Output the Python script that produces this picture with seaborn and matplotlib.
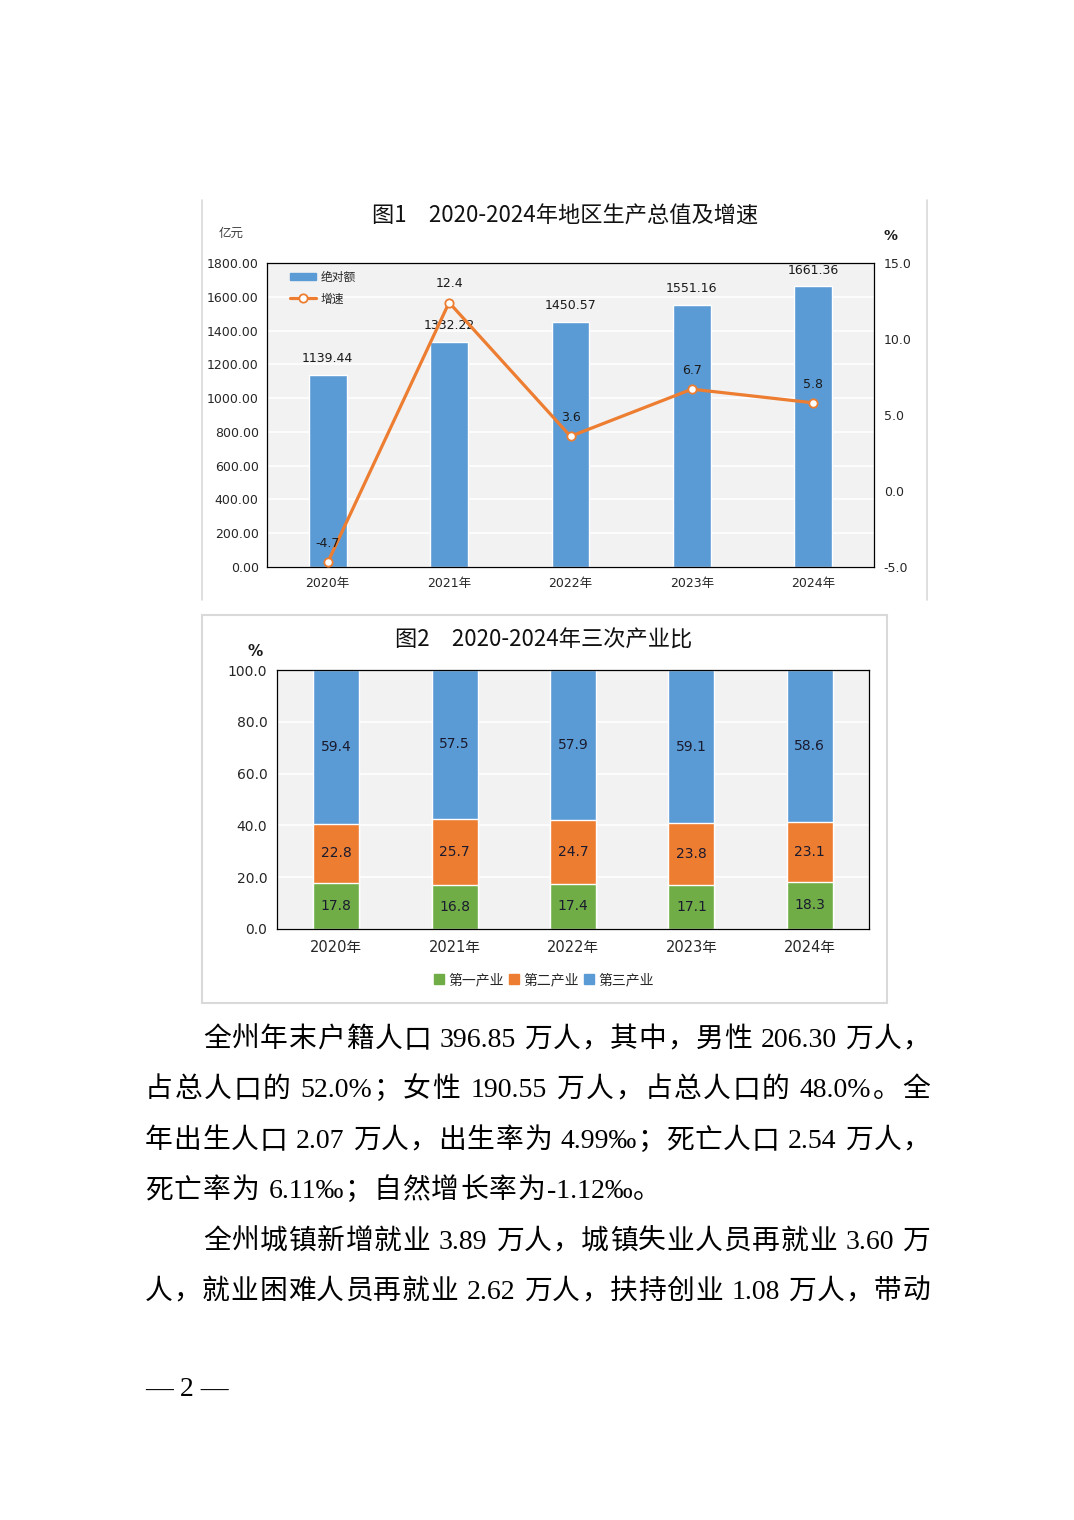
import re
import numpy as np
import pandas as pd
import matplotlib
matplotlib.use("Agg")
import matplotlib.pyplot as plt
import seaborn as sns
from matplotlib.lines import Line2D
from matplotlib.patches import Patch, Rectangle
from matplotlib.ticker import FormatStrFormatter

# ---- data ----
years = ["2020年", "2021年", "2022年", "2023年", "2024年"]
gdp = [1139.44, 1332.22, 1450.57, 1551.16, 1661.36]
growth = [-4.7, 12.4, 3.6, 6.7, 5.8]

sectors = ["第一产业", "第二产业", "第三产业"]
primary = [17.8, 16.8, 17.4, 17.1, 18.3]
secondary = [22.8, 25.7, 24.7, 23.8, 23.1]
tertiary = [59.4, 57.5, 57.9, 59.1, 58.6]

title1 = "图1\u30002020-2024年地区生产总值及增速"
title2 = "图2\u30002020-2024年三次产业比"

body_lines = [
    "全州年末户籍人口 396.85 万人，其中，男性 206.30 万人，",
    "占总人口的 52.0%；女性 190.55 万人，占总人口的 48.0%。全",
    "年出生人口 2.07 万人，出生率为 4.99‰；死亡人口 2.54 万人，",
    "死亡率为 6.11‰；自然增长率为-1.12‰。",
    "全州城镇新增就业 3.89 万人，城镇失业人员再就业 3.60 万",
    "人，就业困难人员再就业 2.62 万人，扶持创业 1.08 万人，带动",
]
page_no = "— 2 —"

sns.set_style("white")
plt.rcParams["font.family"] = ["DejaVu Sans", "Noto Sans CJK SC"]
CJK = ["Noto Sans CJK SC", "DejaVu Sans"]
SANS = ["DejaVu Sans", "Noto Sans CJK SC"]
SERIF = ["Liberation Serif", "Noto Sans CJK SC"]

BLUE = "#5b9bd5"
ORANGE = "#ed7d31"
GREEN = "#70ad47"

W, H = 1074, 1520
fig = plt.figure(figsize=(W / 100, H / 100), dpi=100)


def box(l, t, r, b):
    return [l / W, 1 - b / H, (r - l) / W, (b - t) / H]


def fx(x):
    return x / W


def fy(y):
    return 1 - y / H


# ---- chart 1: GDP and growth ----
fig.add_artist(Line2D([fx(202)] * 2, [fy(200), fy(600)], transform=fig.transFigure, color="#d9d9d9", lw=1.2))
fig.add_artist(Line2D([fx(927)] * 2, [fy(200), fy(600)], transform=fig.transFigure, color="#d9d9d9", lw=1.2))

ax = fig.add_axes(box(267, 263, 874, 567))
ax.set_facecolor("#f2f2f2")
df1 = pd.DataFrame({"year": years, "gdp": gdp, "growth": growth})
sns.barplot(data=df1, x="year", y="gdp", color=BLUE, saturation=1, width=0.31, ax=ax)
ax.set_xlim(-0.5, 4.5)
ax.set_ylim(0, 1800)
ax.set_yticks(np.arange(0, 1801, 200))
ax.yaxis.set_major_formatter(FormatStrFormatter("%.2f"))
ax.grid(axis="y", color="white", lw=1.2)
ax.set_axisbelow(True)
ax.set_xlabel("")
ax.set_ylabel("")
ax.tick_params(axis="y", length=0, labelsize=9, pad=6, colors="#262626")
ax.tick_params(axis="x", length=0, labelsize=9, pad=7, colors="#262626")
for s in ax.spines.values():
    s.set_color("black")
    s.set_linewidth(0.9)
ax.bar_label(ax.containers[0], fmt="%.2f", padding=7, fontsize=9, color="#1a1a1a")

ax2 = ax.twinx()
sns.lineplot(x=np.arange(len(growth)), y=growth, ax=ax2, color=ORANGE, lw=2.3,
             marker="o", markersize=6, markerfacecolor="white",
             markeredgecolor=ORANGE, markeredgewidth=1.3)
ax2.set_xlim(-0.5, 4.5)
ax2.set_ylim(-5, 15)
ax2.set_yticks(np.arange(-5, 15.1, 5))
ax2.yaxis.set_major_formatter(FormatStrFormatter("%.1f"))
ax2.grid(False)
ax2.tick_params(axis="y", length=0, labelsize=9, pad=7, colors="#262626")
for s in ax2.spines.values():
    s.set_visible(False)
for i, v in enumerate(growth):
    ax2.annotate(f"{v:.1f}", (i, v), xytext=(0, 13.5), textcoords="offset points",
                 ha="center", va="center", fontsize=9, color="#1a1a1a")

handles = [Patch(color=BLUE),
           Line2D([], [], color=ORANGE, lw=2.3, marker="o", markersize=6,
                  markerfacecolor="white", markeredgecolor=ORANGE, markeredgewidth=1.3)]
ax2.legend(handles, ["绝对额", "增速"], loc="upper left", bbox_to_anchor=(0.038, 0.975),
           frameon=False, prop={"family": CJK, "size": 8.5}, handlelength=2.2,
           handleheight=0.6, labelspacing=0.75, borderaxespad=0, borderpad=0, handletextpad=0.4)

fig.text(fx(565), fy(216), title1, ha="center", va="center", fontsize=16, family=CJK,
         color="#111111")
fig.text(fx(231), fy(233), "亿元", ha="center", va="center", fontsize=9, family=CJK, color="#404040")
fig.text(fx(891), fy(236), "%", ha="center", va="center", fontsize=10, weight="bold", color="#1a1a1a")

# ---- chart 2: industry structure ----
fig.add_artist(Rectangle((fx(202), fy(1003)), (887 - 202) / W, (1003 - 615) / H,
                         transform=fig.transFigure, fill=False, edgecolor="#d9d9d9", lw=1.5))

ax3 = fig.add_axes(box(277, 670, 869, 929))
ax3.set_facecolor("#f2f2f2")
df2 = pd.DataFrame({"year": years, "第一产业": primary, "第二产业": secondary, "第三产业": tertiary})
tops = df2[sectors].cumsum(axis=1)
bottoms = tops - df2[sectors]
colors = {"第一产业": GREEN, "第二产业": ORANGE, "第三产业": BLUE}
for s in reversed(sectors):
    sns.barplot(x=df2["year"], y=tops[s], color=colors[s], saturation=1, width=0.39, ax=ax3)
for s in sectors:
    for i in range(len(years)):
        ax3.text(i, bottoms[s][i] + df2[s][i] / 2, f"{df2[s][i]:.1f}", ha="center", va="center",
                 fontsize=10, family=SANS, color="#1a1a2e")
ax3.set_xlim(-0.5, 4.5)
ax3.set_ylim(0, 100)
ax3.set_yticks(np.arange(0, 100.1, 20))
ax3.yaxis.set_major_formatter(FormatStrFormatter("%.1f"))
ax3.grid(axis="y", color="white", lw=1.2)
ax3.set_axisbelow(True)
ax3.set_xlabel("")
ax3.set_ylabel("")
ax3.tick_params(axis="y", length=0, labelsize=10, pad=7, colors="#262626")
ax3.tick_params(axis="x", length=0, labelsize=10.5, pad=8, colors="#262626")
for s in ax3.spines.values():
    s.set_color("black")
    s.set_linewidth(0.9)

fig.legend([Patch(color=colors[s]) for s in sectors], sectors, loc="center",
           bbox_to_anchor=(fx(544), fy(980)), ncol=3, frameon=False,
           prop={"family": CJK, "size": 10}, handlelength=0.7, handleheight=0.7,
           handletextpad=0.3, columnspacing=0.4)

fig.text(fx(544), fy(640), title2, ha="center", va="center", fontsize=16, family=CJK,
         color="#111111")
fig.text(fx(255), fy(651), "%", ha="center", va="center", fontsize=11, weight="bold", color="#1a1a1a")

# ---- body text, justified token by token ----
renderer = fig.canvas.get_renderer()
FS = 20
EM = FS * 100 / 72
CJK_RE = r"[\u3000-\u9fff\uff00-\uffef]"


def layout(line, x0, x1, y, gap=None):
    toks = re.findall(CJK_RE + r"|[^\u3000-\u9fff\uff00-\uffef ]+| ", line)
    items = []
    for tok in toks:
        if tok == " ":
            items.append((None, EM * 0.25))
        elif re.match(CJK_RE, tok):
            t = fig.text(0, fy(y), tok, fontsize=FS, family=CJK, va="baseline", ha="left", color="black")
            items.append((t, EM))
        else:
            t = fig.text(0, fy(y), tok, fontsize=FS, family=SERIF, va="baseline", ha="left", color="black")
            items.append((t, t.get_window_extent(renderer).width))
    if gap is None:
        gap = (x1 - x0 - sum(w for _, w in items)) / (len(items) - 1)
    x = x0
    for t, w in items:
        if t is not None:
            t.set_x(fx(x))
        x += w + gap
    return gap


baselines = [1047, 1097, 1148, 1198, 1249, 1299]
starts = [203, 145, 145, 145, 203, 145]
gaps = []
for k, line in enumerate(body_lines):
    if k == 3:
        g = layout(line, starts[k], 930, baselines[k], gap=np.mean(gaps))
    else:
        g = layout(line, starts[k], 930, baselines[k])
        gaps.append(g)

fig.text(fx(145), fy(1390), page_no, ha="left", va="center", fontsize=20, family=SERIF, color="black")

fig.savefig("out.png", dpi=100, facecolor="white")
